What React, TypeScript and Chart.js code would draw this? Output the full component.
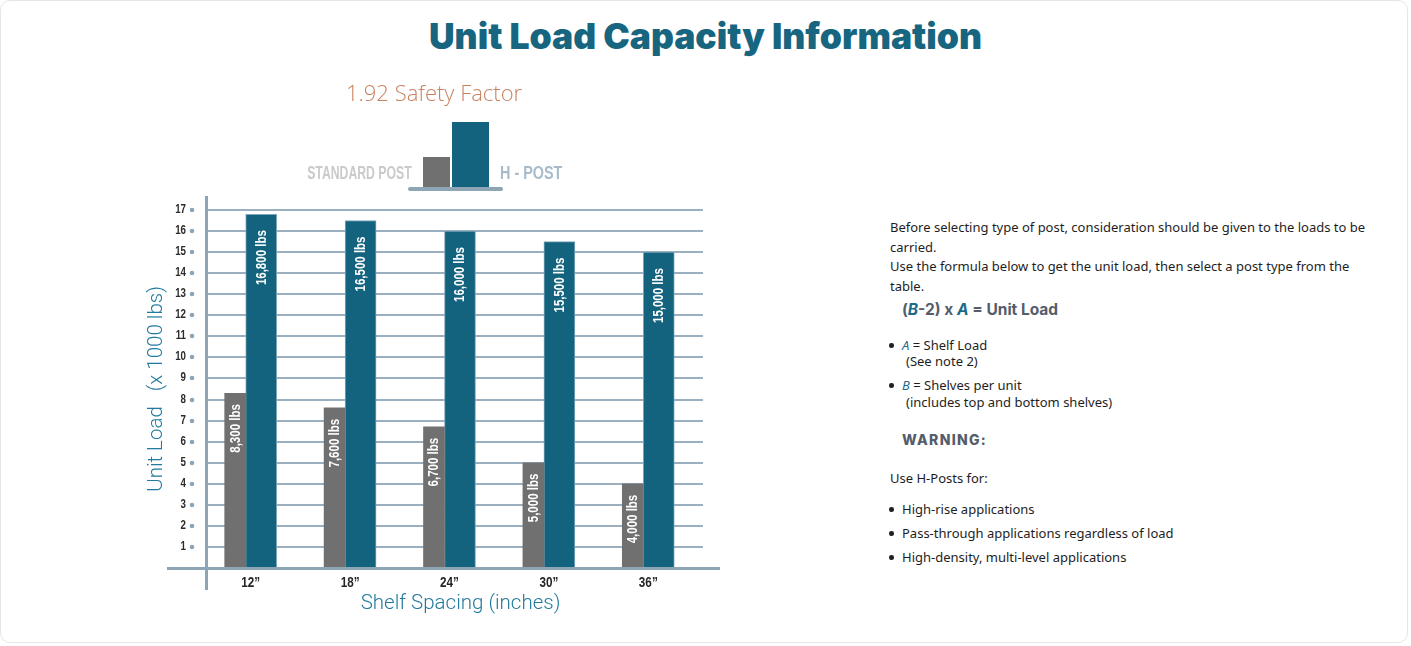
import React, { useEffect, useRef } from 'react';
import { Chart, registerables } from 'chart.js';

Chart.register(...registerables);

const categories = ['12”', '18”', '24”', '30”', '36”'];
const standardPost = [8.3, 7.6, 6.7, 5.0, 4.0];
const hPost = [16.8, 16.5, 16.0, 15.5, 15.0];
const yMax = 17;

const SANS = "'Liberation Sans', Arial, sans-serif";
const AXIS_BLUE = '#8ea5b6';
const TEAL = '#237a9e';
const BAR_BLUE = '#13637f';
const BAR_GRAY = '#707070';

const fmt = (v: number) => Math.round(v * 1000).toLocaleString('en-US') + ' lbs';

// draw horizontally compressed text (emulates a condensed face)
function narrowText(ctx: any, text: string, x: number, y: number, sx: number, rot = 0) {
  ctx.save();
  ctx.translate(x, y);
  if (rot) ctx.rotate(rot);
  ctx.scale(sx, 1);
  ctx.fillText(text, 0, 0);
  ctx.restore();
}

const decorPlugin = {
  id: 'decor',
  beforeDatasetsDraw(chart: any) {
    const { ctx, chartArea: ca, scales } = chart;
    const y = scales.y;
    const x = scales.x;
    const axisX = ca.left + 10.5;
    ctx.save();
    y.ticks.forEach((t: any) => {
      if (t.value === 0) return;
      const py = Math.round(y.getPixelForValue(t.value));
      ctx.strokeStyle = '#9ab0c0';
      ctx.lineWidth = 2;
      ctx.beginPath();
      ctx.moveTo(axisX, py);
      ctx.lineTo(ca.right + 10, py);
      ctx.stroke();
      ctx.fillStyle = AXIS_BLUE;
      ctx.beginPath();
      ctx.arc(ca.left - 4, py, 2.3, 0, Math.PI * 2);
      ctx.fill();
      // tick label
      ctx.fillStyle = '#2b2b2b';
      ctx.font = `bold 12.5px ${SANS}`;
      ctx.textAlign = 'right';
      ctx.textBaseline = 'middle';
      narrowText(ctx, String(t.value), ca.left - 10, py, 0.78);
    });
    // category labels
    ctx.fillStyle = '#262626';
    ctx.font = `bold 15px ${SANS}`;
    ctx.textAlign = 'center';
    ctx.textBaseline = 'middle';
    x.ticks.forEach((t: any, i: number) => {
      const px = x.getPixelForTick(i) + 5;
      narrowText(ctx, String(chart.data.labels[i]), px, ca.bottom + 15, 0.78);
    });
    ctx.strokeStyle = AXIS_BLUE;
    ctx.lineWidth = 3;
    ctx.beginPath();
    ctx.moveTo(axisX, ca.top - 14);
    ctx.lineTo(axisX, ca.bottom + 22);
    ctx.stroke();
    ctx.restore();
  },
  afterDatasetsDraw(chart: any) {
    const { ctx, chartArea: ca } = chart;
    ctx.save();
    // baseline
    ctx.strokeStyle = AXIS_BLUE;
    ctx.lineWidth = 3;
    ctx.beginPath();
    ctx.moveTo(ca.left - 29, ca.bottom + 0.5);
    ctx.lineTo(ca.right + 27, ca.bottom + 0.5);
    ctx.stroke();
    // value labels in bars
    ctx.fillStyle = '#ffffff';
    ctx.font = `bold 14px ${SANS}`;
    ctx.textAlign = 'right';
    ctx.textBaseline = 'middle';
    chart.data.datasets.forEach((ds: any, di: number) => {
      const meta = chart.getDatasetMeta(di);
      meta.data.forEach((bar: any, i: number) => {
        const off = di === 0 ? 11 : 16;
        narrowText(ctx, fmt(ds.data[i]), bar.x + 0.5, bar.y + off, 0.82, -Math.PI / 2);
      });
    });
    // axis titles
    ctx.fillStyle = TEAL;
    ctx.textAlign = 'center';
    ctx.textBaseline = 'middle';
    ctx.font = `300 20.5px Roboto, 'Open Sans', sans-serif`;
    ctx.fillText('Shelf Spacing (inches)', (ca.left + ca.right) / 2 + 16, ca.bottom + 36);
    ctx.save();
    ctx.translate(ca.left - 39, (ca.top + ca.bottom) / 2);
    ctx.rotate(-Math.PI / 2);
    ctx.fillText('Unit Load   (x 1000 lbs)', 0, 0);
    ctx.restore();
    ctx.restore();
  },
};

function ChartCanvas() {
  const ref = useRef<HTMLCanvasElement | null>(null);
  useEffect(() => {
    if (!ref.current) return;
    const chart = new Chart(ref.current, {
      type: 'bar',
      data: {
        labels: categories,
        datasets: [
          {
            label: 'Standard Post',
            data: standardPost,
            backgroundColor: BAR_GRAY,
            borderWidth: 0,
            barThickness: 21,
          },
          {
            label: 'H - Post',
            data: hPost,
            backgroundColor: BAR_BLUE,
            borderColor: '#7fa6b9',
            borderWidth: 1,
            barThickness: 31,
          },
        ],
      },
      options: {
        responsive: false,
        animation: false,
        events: [],
        layout: { padding: { left: 0, top: 210, right: 67, bottom: 0 } },
        plugins: { legend: { display: false }, tooltip: { enabled: false }, title: { display: false } },
        scales: {
          x: {
            grid: { display: false, drawTicks: false },
            border: { display: false },
            ticks: { display: false },
            afterFit: (s: any) => { s.height = 78; },
          },
          y: {
            min: 0,
            max: yMax,
            grid: { display: false, drawTicks: false },
            border: { display: false },
            ticks: { display: false, stepSize: 1 },
            afterFit: (s: any) => { s.width = 196; },
          },
        },
      },
      plugins: [decorPlugin],
    } as any);
    return () => chart.destroy();
  }, []);
  return (
    <canvas
      ref={ref}
      width={760}
      height={646}
      style={{ position: 'absolute', left: 0, top: 0, width: 760, height: 646 }}
    />
  );
}

const bodyText: React.CSSProperties = {
  position: 'absolute',
  left: 890,
  fontFamily: "'Noto Sans', Lato, sans-serif",
  fontSize: 13,
  color: '#1e1e1e',
  lineHeight: '19.5px',
  whiteSpace: 'nowrap',
};

const em: React.CSSProperties = { color: '#1f6d8c', fontStyle: 'italic' };

function Bullet({ top, children }: { top: number; children: React.ReactNode }) {
  return (
    <div style={{ ...bodyText, top, left: 889 }}>
      <span
        style={{
          display: 'inline-block', width: 4.5, height: 4.5, borderRadius: '50%', background: '#222',
          marginRight: 8.5, verticalAlign: 'middle', position: 'relative', top: -1,
        }}
      />
      {children}
    </div>
  );
}

export default function App() {
  useEffect(() => {
    document.body.style.margin = '0';
    document.body.style.background = '#ffffff';
  }, []);
  return (
    <div style={{ position: 'relative', width: 1411, height: 646, overflow: 'hidden', background: '#fff' }}>
      <div
        style={{
          position: 'absolute', left: 0, top: 0, width: 1408, height: 643,
          border: '1px solid #e6e6e6', borderRadius: 10, boxSizing: 'border-box',
        }}
      />
      <div
        style={{
          position: 'absolute', left: 0, top: 16, width: 1411, textAlign: 'center',
          fontFamily: "Inter, 'Open Sans', sans-serif", fontWeight: 900, fontSize: 35.5,
          lineHeight: '42px', color: '#17657f',
        }}
      >
        Unit Load Capacity Information
      </div>
      <ChartCanvas />
      {/* legend */}
      <div
        style={{
          position: 'absolute', left: 346, top: 78, fontFamily: "'Open Sans', Roboto, sans-serif",
          fontWeight: 300, fontSize: 22, lineHeight: '28px', color: '#c9825f', whiteSpace: 'nowrap',
        }}
      >
        1.92 Safety Factor
      </div>
      <div
        style={{
          position: 'absolute', right: 1411 - 412, top: 161, fontFamily: SANS, fontSize: 18,
          fontWeight: 700, lineHeight: '24px', color: '#cacaca', whiteSpace: 'nowrap', transform: 'scaleX(0.68)',
          transformOrigin: 'right center',
        }}
      >
        STANDARD POST
      </div>
      <div style={{ position: 'absolute', left: 423, top: 157, width: 27, height: 31, background: BAR_GRAY }} />
      <div style={{ position: 'absolute', left: 452, top: 122, width: 37, height: 66, background: BAR_BLUE }} />
      <div style={{ position: 'absolute', left: 408, top: 187, width: 95, height: 4, borderRadius: 2, background: AXIS_BLUE }} />
      <div
        style={{
          position: 'absolute', left: 500, top: 161, fontFamily: SANS, fontSize: 18, fontWeight: 700,
          lineHeight: '24px', color: '#a7bbca', whiteSpace: 'nowrap', transform: 'scaleX(0.8)',
          transformOrigin: 'left center',
        }}
      >
        H - POST
      </div>
      {/* right text */}
      <div style={{ ...bodyText, top: 218 }}>
        Before selecting type of post, consideration should be given to the loads to be
        <br />
        carried.
        <br />
        Use the formula below to get the unit load, then select a post type from the
        <br />
        table.
      </div>
      <div
        style={{
          position: 'absolute', left: 902, top: 300, fontFamily: "Inter, 'Open Sans', sans-serif",
          fontWeight: 700, fontSize: 15.5, lineHeight: '20px', color: '#545d6b', whiteSpace: 'nowrap',
        }}
      >
        (<span style={{ color: '#1a6a88', fontStyle: 'italic' }}>B</span>-2) x{' '}
        <span style={{ color: '#1a6a88', fontStyle: 'italic' }}>A</span> = Unit Load
      </div>
      <Bullet top={336}>
        <span style={em}>A</span> = Shelf Load
      </Bullet>
      <div style={{ ...bodyText, left: 906, top: 352 }}>(See note 2)</div>
      <Bullet top={376}>
        <span style={em}>B</span> = Shelves per unit
      </Bullet>
      <div style={{ ...bodyText, left: 906, top: 393 }}>(includes top and bottom shelves)</div>
      <div
        style={{
          position: 'absolute', left: 902, top: 430, fontFamily: "Inter, 'Open Sans', sans-serif",
          fontWeight: 800, fontSize: 14, lineHeight: '20px', color: '#545d6b', letterSpacing: 1.3,
        }}
      >
        WARNING:
      </div>
      <div style={{ ...bodyText, top: 469 }}>Use H-Posts for:</div>
      <Bullet top={500}>High-rise applications</Bullet>
      <Bullet top={524}>Pass-through applications regardless of load</Bullet>
      <Bullet top={548}>High-density, multi-level applications</Bullet>
    </div>
  );
}
